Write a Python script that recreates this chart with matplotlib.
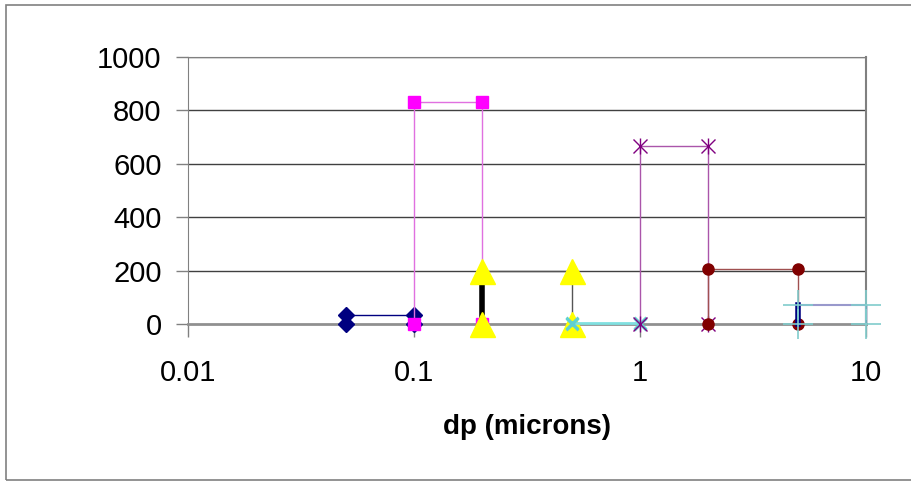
import matplotlib
matplotlib.use("Agg")
import matplotlib.pyplot as plt
from matplotlib.patches import Rectangle

# size bins (microns) and concentrations, drawn as step outlines
navy_x = [0.05, 0.05, 0.1, 0.1]
navy_y = [0, 35, 35, 0]
pink_x = [0.1, 0.1, 0.2, 0.2]
pink_y = [0, 833, 833, 0]
yellow_x = [0.2, 0.2, 0.5, 0.5]
yellow_y = [0, 200, 200, 0]
cyan_x = [0.5, 0.5, 1, 1]
cyan_y = [0, 5, 5, 0]
purple_x = [1, 1, 2, 2]
purple_y = [0, 665, 665, 0]
red_x = [2, 2, 5, 5]
red_y = [0, 207, 207, 0]
teal_x = [5, 5, 10, 10]
teal_y = [0, 72, 72, 0]

x_ticks = [0.01, 0.1, 1, 10]
x_labels = ["0.01", "0.1", "1", "10"]
y_ticks = [0, 200, 400, 600, 800, 1000]

plt.rcParams['font.family'] = ['Liberation Sans', 'DejaVu Sans']

fig = plt.figure(figsize=(9.11, 4.82), dpi=100)
ax = fig.add_axes([188/911, 1-324/482, (866-188)/911, (324-57)/482])

# outer chart border
fig.patches.append(Rectangle((6/911, 2/482), 1.0, 1-7/482, transform=fig.transFigure,
                             fill=False, edgecolor='#808080', lw=1.2))

for y in y_ticks[1:]:
    ax.axhline(y, color='#404040', lw=1, zorder=1)

kw = dict(clip_on=False, zorder=3)
ax.plot(navy_x, navy_y, color='#000080', lw=1, marker='D', ms=8, mfc='#000080', mec='#000080', **kw)
ax.plot(pink_x, pink_y, color='#e070e0', lw=1, marker='s', ms=9, mfc='#ff00ff', mec='#ff00ff', **kw)
ax.plot(yellow_x, yellow_y, color='#555555', lw=1, **kw)
ax.plot(yellow_x[:2], yellow_y[:2], color='black', lw=4, **kw)
ax.plot(yellow_x, yellow_y, ls='none', marker='^', ms=18, mfc='#ffff00', mec='#ffff00', **kw)
ax.plot(cyan_x, cyan_y, color='#80e0e0', lw=2, marker='x', ms=9, mew=2, mec='#60d0d0', **kw)
ax.plot(purple_x, purple_y, color='#aa55aa', lw=1, marker='x', ms=10, mec='#800080', **kw)
ax.plot(purple_x, purple_y, ls='none', marker='|', ms=12, mec='#800080', **kw)
ax.plot(red_x, red_y, color='#a05050', lw=1, marker='o', ms=8, mfc='#800000', mec='#800000', **kw)
ax.plot(teal_x, teal_y, color='#9999cc', lw=1.5, **kw)
ax.plot(teal_x[:2], teal_y[:2], color='#000080', lw=4, **kw)
ax.plot(teal_x[2:], teal_y[2:], color='#202060', lw=1, **kw)
ax.plot(teal_x, teal_y, ls='none', marker='+', ms=22, mew=1.2, mec='#80cccc', **kw)

ax.set_xscale('log')
ax.set_xlim(0.01, 10)
ax.set_ylim(0, 1000)
ax.set_xticks(x_ticks)
ax.set_xticklabels(x_labels)
ax.minorticks_off()
ax.set_yticks(y_ticks)
ax.tick_params(axis='both', labelsize=21, length=9, width=1, color='#808080', direction='out')
ax.tick_params(axis='y', pad=10)
ax.tick_params(axis='x', pad=16)

ax.spines['bottom'].set_color('#909090')
ax.spines['bottom'].set_linewidth(2)
ax.spines['left'].set_color('#808080')
ax.spines['top'].set_color('#808080')
ax.spines['right'].set_color('#808080')
ax.spines['right'].set_linewidth(1.5)

ax.set_xlabel('dp (microns)', fontsize=20, fontweight='bold', labelpad=20)

fig.savefig('out.png', dpi=100)
